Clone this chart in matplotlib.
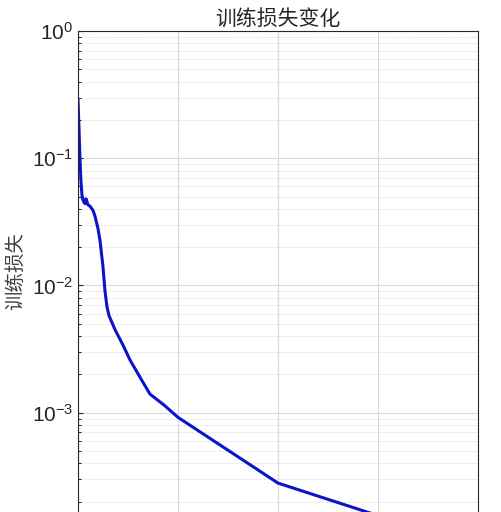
import matplotlib
matplotlib.use("Agg")
import matplotlib.pyplot as plt
from matplotlib.ticker import LogLocator, NullFormatter

plt.rcParams['font.family'] = ['Liberation Sans', 'Noto Sans CJK SC', 'DejaVu Sans']
plt.rcParams['mathtext.fontset'] = 'custom'
plt.rcParams['mathtext.rm'] = 'Liberation Sans'

# values (x in axis units 0..4, loss on log scale)
epoch = [0.0, 0.01, 0.02, 0.03, 0.04, 0.05, 0.06, 0.07, 0.08, 0.10, 0.12, 0.15,
         0.17, 0.20, 0.22, 0.25, 0.27, 0.29, 0.31, 0.37, 0.45, 0.52, 0.62,
         0.72, 0.86, 1.00, 2.00, 2.92, 4.00]
loss = [0.286, 0.17, 0.097, 0.065, 0.051, 0.047, 0.045, 0.044, 0.048, 0.043,
        0.042, 0.039, 0.035, 0.028, 0.0226, 0.014, 0.009, 0.0068, 0.0058,
        0.0045, 0.0034, 0.0026, 0.0019, 0.0014, 0.00115, 0.00092, 0.00028,
        0.000163, 0.0001]

fig = plt.figure(figsize=(5.01, 5.12), dpi=100)
ax = fig.add_axes([78 / 501, 0.0, 400 / 501, 1 - 31 / 512])
ax.plot(epoch, loss, color="#0a14c8", linewidth=2.2)
ax.set_yscale("log")
ax.set_xlim(0, 4)
ax.set_ylim(10 ** -3.78, 1)
ax.set_xticks([0, 1, 2, 3, 4])
ax.tick_params(axis="x", labelbottom=False, length=0)
ax.yaxis.set_major_locator(LogLocator(base=10, numticks=10))
ax.yaxis.set_minor_locator(LogLocator(base=10, subs=range(2, 10), numticks=20))
ax.yaxis.set_minor_formatter(NullFormatter())
ax.tick_params(axis="y", labelsize=15, direction="in", colors="#262626")
ax.tick_params(which="minor", direction="in")
ax.grid(True, which="major", color="#d9d9d9", linewidth=0.8)
ax.grid(True, which="minor", axis="y", color="#d0d0d0", linestyle=":", linewidth=0.7)
ax.spines["bottom"].set_visible(False)
for s in ["top", "left", "right"]:
    ax.spines[s].set_color("#262626")
ax.set_title("训练损失变化", fontsize=15, color="#262626", pad=3,
             family=['Noto Sans CJK SC'], fontweight="light")
ax.set_ylabel("训练损失", fontsize=14, color="#404040",
              family=['Noto Sans CJK SC'], fontweight="light")
fig.savefig("out.png", dpi=100)
